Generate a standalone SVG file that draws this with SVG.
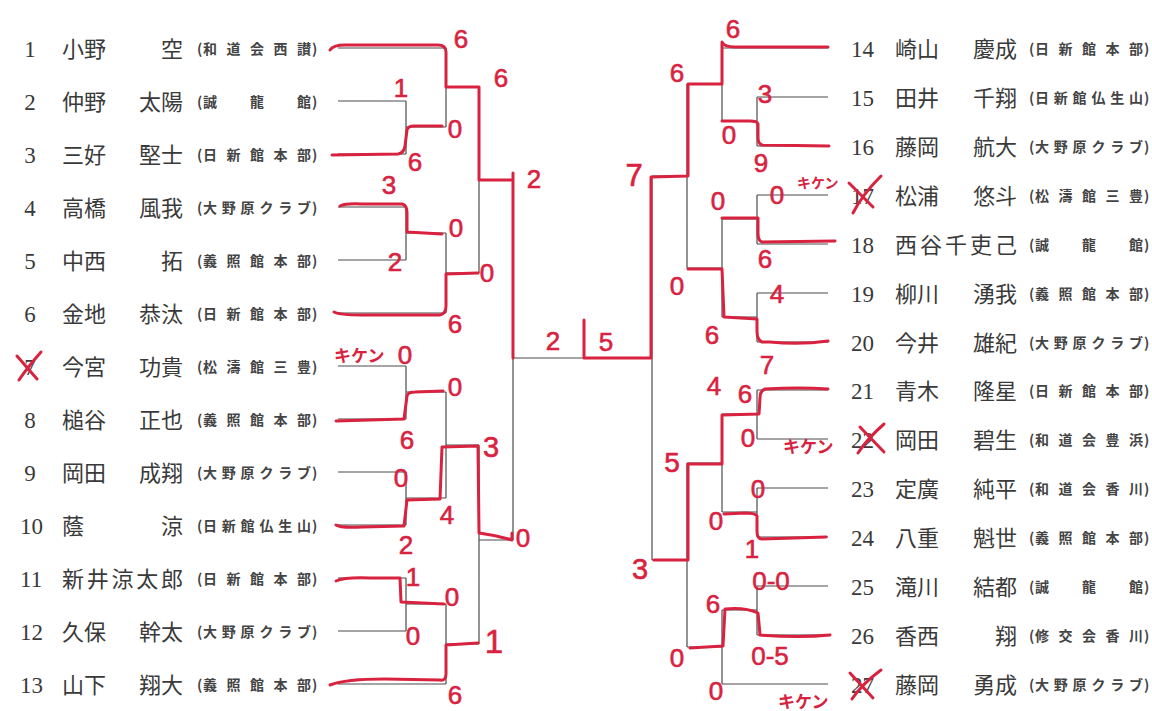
<svg xmlns="http://www.w3.org/2000/svg" width="1152" height="711" viewBox="0 0 1152 711">
<style>
.ln{stroke:#4d4d4d;stroke-width:1.2;fill:none}
.rd{stroke:#d8223f;stroke-width:3;fill:none;stroke-linecap:round;stroke-linejoin:round}
.num{font-family:"Liberation Serif",serif;font-size:23px;fill:#3a3a3a}
.nm{font-family:"Noto Sans CJK JP",sans-serif;font-size:22px;fill:#3a3a3a}
.cl{font-family:"Noto Sans CJK JP",sans-serif;font-size:14px;font-weight:bold;fill:#444444}
.hw{font-family:"Liberation Sans",sans-serif;font-size:26px;fill:#d8223f;stroke:#d8223f;stroke-width:0.6;text-anchor:middle}
.kk{font-family:"Noto Sans CJK JP",sans-serif;font-size:17px;fill:#d8223f;font-weight:bold}
</style>
<rect width="1152" height="711" fill="#ffffff"/>

<g id="connectors">
<path class="ln" d="M338,48H446M338,101H406M338,154H406M406,101V154M406,127H446M338,207H406M338,260H406M406,207V260M406,233H446M338,313H446M446,48V127M446,87H479M446,233V313M446,273H479M479,87V273M479,180H513"/>
<path class="ln" d="M338,366H406M338,419H406M406,366V419M406,392H446M338,472H406M338,525H406M406,472V525M406,498H446M446,392V498M446,445H479M338,578H406M338,631H406M406,578V631M406,604H446M338,684H446M446,604V684M446,644H479M479,445V644M479,540H513M513,180V540M513,358H652"/>
<path class="ln" d="M722,48H828M757,97H828M757,146H828M757,97V146M722,121H757M722,48V121M687,84H722M757,195H828M757,244H828M757,195V244M722,219H757M757,293H828M757,342H828M757,293V342M722,317H757M722,219V317M687,268H722M687,84V268M652,176H687"/>
<path class="ln" d="M757,390H828M757,439H828M757,390V439M722,414H757M757,488H828M757,537H828M757,488V537M722,512H757M722,414V512M687,463H722M757,586H828M757,635H828M757,586V635M722,610H757M722,684H828M722,610V684M687,647H722M687,463V647M652,560H687M652,176V560"/>
</g>

<g id="left-entrants">
<g id="p1"><text class="num" x="30" y="57" text-anchor="middle">1</text><text class="nm" x="62" y="57">小野</text><text class="nm" x="183" y="57" text-anchor="end">空</text><text class="cl" x="197" y="54">(</text><text class="cl" x="203" y="54" textLength="108" lengthAdjust="spacing">和道会西讃</text><text class="cl" x="312" y="54">)</text></g>
<g id="p2"><text class="num" x="30" y="110" text-anchor="middle">2</text><text class="nm" x="62" y="110">仲野</text><text class="nm" x="183" y="110" text-anchor="end">太陽</text><text class="cl" x="197" y="107">(</text><text class="cl" x="203" y="107" textLength="108" lengthAdjust="spacing">誠　龍　館</text><text class="cl" x="312" y="107">)</text></g>
<g id="p3"><text class="num" x="30" y="163" text-anchor="middle">3</text><text class="nm" x="62" y="163">三好</text><text class="nm" x="183" y="163" text-anchor="end">堅士</text><text class="cl" x="197" y="160">(</text><text class="cl" x="203" y="160" textLength="108" lengthAdjust="spacing">日新館本部</text><text class="cl" x="312" y="160">)</text></g>
<g id="p4"><text class="num" x="30" y="216" text-anchor="middle">4</text><text class="nm" x="62" y="216">高橋</text><text class="nm" x="183" y="216" text-anchor="end">風我</text><text class="cl" x="197" y="213">(</text><text class="cl" x="203" y="213" textLength="108" lengthAdjust="spacing">大野原クラブ</text><text class="cl" x="312" y="213">)</text></g>
<g id="p5"><text class="num" x="30" y="269" text-anchor="middle">5</text><text class="nm" x="62" y="269">中西</text><text class="nm" x="183" y="269" text-anchor="end">拓</text><text class="cl" x="197" y="266">(</text><text class="cl" x="203" y="266" textLength="108" lengthAdjust="spacing">義照館本部</text><text class="cl" x="312" y="266">)</text></g>
<g id="p6"><text class="num" x="30" y="322" text-anchor="middle">6</text><text class="nm" x="62" y="322">金地</text><text class="nm" x="183" y="322" text-anchor="end">恭汰</text><text class="cl" x="197" y="319">(</text><text class="cl" x="203" y="319" textLength="108" lengthAdjust="spacing">日新館本部</text><text class="cl" x="312" y="319">)</text></g>
<g id="p7"><text class="num" x="30" y="375" text-anchor="middle">7</text><text class="nm" x="62" y="375">今宮</text><text class="nm" x="183" y="375" text-anchor="end">功貴</text><text class="cl" x="197" y="372">(</text><text class="cl" x="203" y="372" textLength="108" lengthAdjust="spacing">松濤館三豊</text><text class="cl" x="312" y="372">)</text></g>
<g id="p8"><text class="num" x="30" y="428" text-anchor="middle">8</text><text class="nm" x="62" y="428">槌谷</text><text class="nm" x="183" y="428" text-anchor="end">正也</text><text class="cl" x="197" y="425">(</text><text class="cl" x="203" y="425" textLength="108" lengthAdjust="spacing">義照館本部</text><text class="cl" x="312" y="425">)</text></g>
<g id="p9"><text class="num" x="30" y="481" text-anchor="middle">9</text><text class="nm" x="62" y="481">岡田</text><text class="nm" x="183" y="481" text-anchor="end">成翔</text><text class="cl" x="197" y="478">(</text><text class="cl" x="203" y="478" textLength="108" lengthAdjust="spacing">大野原クラブ</text><text class="cl" x="312" y="478">)</text></g>
<g id="p10"><text class="num" x="20" y="534">10</text><text class="nm" x="62" y="534">蔭</text><text class="nm" x="183" y="534" text-anchor="end">涼</text><text class="cl" x="197" y="531">(</text><text class="cl" x="203" y="531" textLength="108" lengthAdjust="spacing">日新館仏生山</text><text class="cl" x="312" y="531">)</text></g>
<g id="p11"><text class="num" x="20" y="587">11</text><text class="nm" x="62" y="587" textLength="121" lengthAdjust="spacing">新井涼太郎</text><text class="cl" x="197" y="584">(</text><text class="cl" x="203" y="584" textLength="108" lengthAdjust="spacing">日新館本部</text><text class="cl" x="312" y="584">)</text></g>
<g id="p12"><text class="num" x="20" y="640">12</text><text class="nm" x="62" y="640">久保</text><text class="nm" x="183" y="640" text-anchor="end">幹太</text><text class="cl" x="197" y="637">(</text><text class="cl" x="203" y="637" textLength="108" lengthAdjust="spacing">大野原クラブ</text><text class="cl" x="312" y="637">)</text></g>
<g id="p13"><text class="num" x="20" y="693">13</text><text class="nm" x="62" y="693">山下</text><text class="nm" x="183" y="693" text-anchor="end">翔大</text><text class="cl" x="197" y="690">(</text><text class="cl" x="203" y="690" textLength="108" lengthAdjust="spacing">義照館本部</text><text class="cl" x="312" y="690">)</text></g>
</g>

<g id="right-entrants">
<g id="p14"><text class="num" x="851" y="57">14</text><text class="nm" x="895" y="57">崎山</text><text class="nm" x="1017" y="57" text-anchor="end">慶成</text><text class="cl" x="1029" y="54">(</text><text class="cl" x="1035" y="54" textLength="108" lengthAdjust="spacing">日新館本部</text><text class="cl" x="1144" y="54">)</text></g>
<g id="p15"><text class="num" x="851" y="106">15</text><text class="nm" x="895" y="106">田井</text><text class="nm" x="1017" y="106" text-anchor="end">千翔</text><text class="cl" x="1029" y="103">(</text><text class="cl" x="1035" y="103" textLength="108" lengthAdjust="spacing">日新館仏生山</text><text class="cl" x="1144" y="103">)</text></g>
<g id="p16"><text class="num" x="851" y="155">16</text><text class="nm" x="895" y="155">藤岡</text><text class="nm" x="1017" y="155" text-anchor="end">航大</text><text class="cl" x="1029" y="152">(</text><text class="cl" x="1035" y="152" textLength="108" lengthAdjust="spacing">大野原クラブ</text><text class="cl" x="1144" y="152">)</text></g>
<g id="p17"><text class="num" x="851" y="204">17</text><text class="nm" x="895" y="204">松浦</text><text class="nm" x="1017" y="204" text-anchor="end">悠斗</text><text class="cl" x="1029" y="201">(</text><text class="cl" x="1035" y="201" textLength="108" lengthAdjust="spacing">松濤館三豊</text><text class="cl" x="1144" y="201">)</text></g>
<g id="p18"><text class="num" x="851" y="253">18</text><text class="nm" x="895" y="253" textLength="122" lengthAdjust="spacing">西谷千吏己</text><text class="cl" x="1029" y="250">(</text><text class="cl" x="1035" y="250" textLength="108" lengthAdjust="spacing">誠　龍　館</text><text class="cl" x="1144" y="250">)</text></g>
<g id="p19"><text class="num" x="851" y="302">19</text><text class="nm" x="895" y="302">柳川</text><text class="nm" x="1017" y="302" text-anchor="end">湧我</text><text class="cl" x="1029" y="299">(</text><text class="cl" x="1035" y="299" textLength="108" lengthAdjust="spacing">義照館本部</text><text class="cl" x="1144" y="299">)</text></g>
<g id="p20"><text class="num" x="851" y="351">20</text><text class="nm" x="895" y="351">今井</text><text class="nm" x="1017" y="351" text-anchor="end">雄紀</text><text class="cl" x="1029" y="348">(</text><text class="cl" x="1035" y="348" textLength="108" lengthAdjust="spacing">大野原クラブ</text><text class="cl" x="1144" y="348">)</text></g>
<g id="p21"><text class="num" x="851" y="399">21</text><text class="nm" x="895" y="399">青木</text><text class="nm" x="1017" y="399" text-anchor="end">隆星</text><text class="cl" x="1029" y="396">(</text><text class="cl" x="1035" y="396" textLength="108" lengthAdjust="spacing">日新館本部</text><text class="cl" x="1144" y="396">)</text></g>
<g id="p22"><text class="num" x="851" y="448">22</text><text class="nm" x="895" y="448">岡田</text><text class="nm" x="1017" y="448" text-anchor="end">碧生</text><text class="cl" x="1029" y="445">(</text><text class="cl" x="1035" y="445" textLength="108" lengthAdjust="spacing">和道会豊浜</text><text class="cl" x="1144" y="445">)</text></g>
<g id="p23"><text class="num" x="851" y="497">23</text><text class="nm" x="895" y="497">定廣</text><text class="nm" x="1017" y="497" text-anchor="end">純平</text><text class="cl" x="1029" y="494">(</text><text class="cl" x="1035" y="494" textLength="108" lengthAdjust="spacing">和道会香川</text><text class="cl" x="1144" y="494">)</text></g>
<g id="p24"><text class="num" x="851" y="546">24</text><text class="nm" x="895" y="546">八重</text><text class="nm" x="1017" y="546" text-anchor="end">魁世</text><text class="cl" x="1029" y="543">(</text><text class="cl" x="1035" y="543" textLength="108" lengthAdjust="spacing">義照館本部</text><text class="cl" x="1144" y="543">)</text></g>
<g id="p25"><text class="num" x="851" y="595">25</text><text class="nm" x="895" y="595">滝川</text><text class="nm" x="1017" y="595" text-anchor="end">結都</text><text class="cl" x="1029" y="592">(</text><text class="cl" x="1035" y="592" textLength="108" lengthAdjust="spacing">誠　龍　館</text><text class="cl" x="1144" y="592">)</text></g>
<g id="p26"><text class="num" x="851" y="644">26</text><text class="nm" x="895" y="644">香西</text><text class="nm" x="1017" y="644" text-anchor="end">翔</text><text class="cl" x="1029" y="641">(</text><text class="cl" x="1035" y="641" textLength="108" lengthAdjust="spacing">修交会香川</text><text class="cl" x="1144" y="641">)</text></g>
<g id="p27"><text class="num" x="851" y="693">27</text><text class="nm" x="895" y="693">藤岡</text><text class="nm" x="1017" y="693" text-anchor="end">勇成</text><text class="cl" x="1029" y="690">(</text><text class="cl" x="1035" y="690" textLength="108" lengthAdjust="spacing">大野原クラブ</text><text class="cl" x="1144" y="690">)</text></g>
</g>

<g id="red-paths">
<path class="rd" d="M330,50 Q333,45 345,45 L438,45 Q446,45 446,52 L446,87 L479,87 L479,180 L511,180 M513,173 L513,358"/>
<path class="rd" d="M332,155 L398,154 Q404,153 405,146 L407,130 Q408,126 414,126 L442,126"/>
<path class="rd" d="M340,206 Q346,203 362,204 L402,204 Q407,205 407,213 L407,232 L442,234"/>
<path class="rd" d="M334,312 Q340,315 362,315 L440,315 Q446,314 446,306 L446,274 L478,273"/>
<path class="rd" d="M336,421 L404,419 L407,396 Q408,392 415,392 L443,391"/>
<path class="rd" d="M336,525 Q340,528 362,527 L404,526 L407,500 L440,499 L442,447 L478,446 L479,533 Q495,535 512,540 L512,533"/>
<path class="rd" d="M336,581 Q345,577 370,578 L400,578 L401,602 L444,604"/>
<path class="rd" d="M330,685 Q345,679 385,679 L440,680 Q446,681 446,674 L446,645 L478,643"/>
<path class="rd" d="M584,320 L584,358 L651,358 L651,177 L688,176 L688,84 L722,84 L722,42 Q724,47 735,47 L828,47"/>
<path class="rd" d="M829,146 L762,145 Q758,144 758,137 L758,124 Q757,121 750,121 L722,121"/>
<path class="rd" d="M835,241 L762,242 Q758,241 758,233 L758,218 L722,218"/>
<path class="rd" d="M828,341 Q800,345 770,342 L762,342 Q757,340 757,331 L757,319 L724,317 L722,269 L688,269"/>
<path class="rd" d="M828,389 Q800,387 765,389 Q760,391 760,398 L759,414 L722,415 L722,464 L688,464 L688,560 L654,560"/>
<path class="rd" d="M826,537 L762,539 Q757,539 757,531 L757,516 Q755,513 745,513 L724,514"/>
<path class="rd" d="M830,635 Q800,638 760,635 L758,613 Q745,607 725,609 L723,646 L690,648"/>
<path class="rd" d="M17,356 L37,379 M19,380 Q27,368 41,352"/>
<path class="rd" d="M849,183 L873,207 M853,213 Q862,195 881,176"/>
<path class="rd" d="M860,427 L884,452 M858,453 Q868,438 884,424"/>
<path class="rd" d="M850,673 L873,698 M852,699 Q862,684 881,670"/>
</g>

<g id="red-scores">
<text class="hw" x="461" y="48">6</text>
<text class="hw" x="501" y="87">6</text>
<text class="hw" x="401" y="97">1</text>
<text class="hw" x="455" y="138">0</text>
<text class="hw" x="415" y="171">6</text>
<text class="hw" x="389" y="194">3</text>
<text class="hw" x="456" y="237">0</text>
<text class="hw" x="395" y="271">2</text>
<text class="hw" x="487" y="282">0</text>
<text class="hw" x="455" y="333">6</text>
<text class="hw" x="534" y="188">2</text>
<text class="kk" x="334" y="362">キケン</text>
<text class="hw" x="405" y="364">0</text>
<text class="hw" x="455" y="396">0</text>
<text class="hw" x="407" y="449">6</text>
<text class="hw" x="401" y="487">0</text>
<text class="hw" x="447" y="524">4</text>
<text class="hw" x="406" y="554">2</text>
<text class="hw" x="491" y="457" style="font-size:29px">3</text>
<text class="hw" x="523" y="547">0</text>
<text class="hw" x="413" y="586">1</text>
<text class="hw" x="452" y="606">0</text>
<text class="hw" x="413" y="645">0</text>
<text class="hw" x="494" y="653" style="font-size:33px">1</text>
<text class="hw" x="455" y="704">6</text>
<text class="hw" x="553" y="350">2</text>
<text class="hw" x="606" y="351">5</text>

<text class="hw" x="733" y="38">6</text>
<text class="hw" x="677" y="82">6</text>
<text class="hw" x="634" y="186" style="font-size:31px">7</text>
<text class="hw" x="765" y="103">3</text>
<text class="hw" x="729" y="144">0</text>
<text class="hw" x="761" y="172">9</text>
<text class="hw" x="777" y="204">0</text>
<text class="kk" x="797" y="188" style="font-size:14px">キケン</text>
<text class="hw" x="718" y="210">0</text>
<text class="hw" x="765" y="268">6</text>
<text class="hw" x="777" y="303">4</text>
<text class="hw" x="677" y="295">0</text>
<text class="hw" x="712" y="344">6</text>
<text class="hw" x="767" y="374">7</text>
<text class="hw" x="714" y="395">4</text>
<text class="hw" x="745" y="403">6</text>
<text class="hw" x="748" y="447">0</text>
<text class="kk" x="783" y="453">キケン</text>
<text class="hw" x="672" y="472" style="font-size:28px">5</text>
<text class="hw" x="758" y="498">0</text>
<text class="hw" x="716" y="530">0</text>
<text class="hw" x="752" y="558">1</text>
<text class="hw" x="640" y="579" style="font-size:29px">3</text>
<text class="hw" x="771" y="590">0-0</text>
<text class="hw" x="713" y="613">6</text>
<text class="hw" x="770" y="665">0-5</text>
<text class="hw" x="677" y="667">0</text>
<text class="hw" x="716" y="700">0</text>
<text class="kk" x="778" y="708">キケン</text>
</g>
</svg>
